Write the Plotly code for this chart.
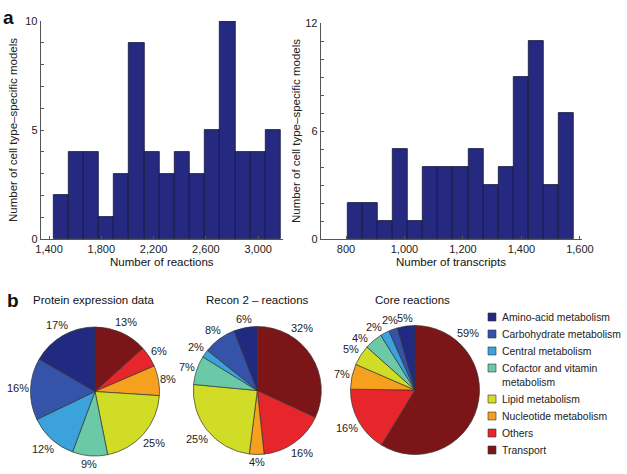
import math
import plotly.graph_objects as go

# histogram a (left): number of reactions
rxn_start = 1433
rxn_width = 116
rxn_counts = [2, 4, 4, 1, 3, 9, 4, 3, 4, 3, 5, 10, 4, 4, 5]

# histogram a (right): number of transcripts
tx_start = 806
tx_width = 51.5
tx_counts = [2, 2, 1, 5, 1, 4, 4, 4, 5, 3, 4, 9, 11, 3, 7]

# pie categories, plotted clockwise from 12 o'clock
categories = ["Transport", "Others", "Nucleotide metabolism", "Lipid metabolism",
              "Cofactor and vitamin<br>metabolism", "Central metabolism",
              "Carbohydrate metabolism", "Amino-acid metabolism"]
colors = ["#7c1517", "#e6262b", "#f6a01f", "#d0dc26",
          "#6cc9a8", "#3ba2dc", "#3553a8", "#1f2a80"]

protein_vals = [13.3, 5.2, 7.5, 20.8, 8.8, 12.2, 15.5, 16.6]
protein_text = ["13%", "6%", "8%", "25%", "9%", "12%", "16%", "17%"]
recon_vals = [31.9, 16.4, 3.7, 24.5, 7.3, 2.0, 8.3, 5.9]
recon_text = ["32%", "16%", "4%", "25%", "7%", "2%", "8%", "6%"]
core_vals = [58.7, 16.5, 6.3, 5.1, 4.5, 2.3, 2.2, 4.4]
core_text = ["59%", "16%", "7%", "5%", "4%", "2%", "2%", "5%"]

W, H = 627, 474
FONT = "Liberation Sans, Arial, sans-serif"
BAR = "#252a80"
AX = "#555555"
TXT = "#222222"

fig = go.Figure()

rxn_x = [rxn_start + rxn_width * (i + 0.5) for i in range(len(rxn_counts))]
tx_x = [tx_start + tx_width * (i + 0.5) for i in range(len(tx_counts))]

fig.add_trace(go.Bar(x=rxn_x, y=rxn_counts, width=rxn_width, marker_color=BAR,
                     marker_line=dict(color="#15173a", width=0.8),
                     showlegend=False, xaxis="x", yaxis="y"))
fig.add_trace(go.Bar(x=tx_x, y=tx_counts, width=tx_width, marker_color=BAR,
                     marker_line=dict(color="#15173a", width=0.8),
                     showlegend=False, xaxis="x2", yaxis="y2"))


def px(x0, x1):
    return [x0 / W, x1 / W]


def py(top, bottom):
    return [1 - bottom / H, 1 - top / H]


# pie centre / radius in pixels
pies = [
    (protein_vals, protein_text, 95, 391.5, 64.5),
    (recon_vals, recon_text, 257.3, 390.5, 64),
    (core_vals, core_text, 415, 390, 64.5),
]
# labels moved by hand in the original (pie, slice) -> angle in degrees
label_angle_override = {(1, 0): 36, (2, 0): 43, (2, 4): 313, (2, 5): 327}

for i, (vals, txt, cx, cy, r) in enumerate(pies):
    fig.add_trace(go.Pie(
        labels=categories, values=vals, textinfo="none", sort=False,
        direction="clockwise", rotation=0,
        marker=dict(colors=colors, line=dict(color="#333333", width=0.7)),
        domain=dict(x=px(cx - r, cx + r), y=py(cy - r, cy + r)),
        showlegend=False, hoverinfo="label+percent",
    ))
    # percentage labels just outside each slice (matlab style)
    total = sum(vals)
    cum = 0
    for j, (v, t) in enumerate(zip(vals, txt)):
        ang = (cum + v / 2) / total * 360
        cum += v
        ang = label_angle_override.get((i, j), ang)
        s, c = math.sin(math.radians(ang)), math.cos(math.radians(ang))
        half_w = (6.1 * (len(t) - 1) + 9.8) / 2
        d = r + 1 + abs(s) * half_w + abs(c) * 6.5
        fig.add_annotation(text=t, x=(cx + d * s) / W, y=1 - (cy - d * c) / H,
                           xref="paper", yref="paper", showarrow=False,
                           xanchor="center", yanchor="middle",
                           font=dict(size=11, color=TXT))

axis_common = dict(showline=True, linecolor=AX, linewidth=1, ticks="inside",
                   ticklen=3, tickcolor=AX, showgrid=False, zeroline=False,
                   automargin=False,
                   tickfont=dict(size=11, color=TXT), tickformat=",d")
y_minor = dict(dtick=1, ticks="inside", ticklen=3, tickcolor=AX, showgrid=False)

fig.update_layout(
    width=W, height=H, margin=dict(l=0, r=0, t=0, b=0),
    paper_bgcolor="white", plot_bgcolor="white",
    font=dict(family=FONT, size=11, color=TXT),
    bargap=0, showlegend=False,
    xaxis=dict(domain=px(40.7, 283), range=[1336, 3190],
               tickvals=[1400, 1800, 2200, 2600, 3000], anchor="y",
               **axis_common),
    yaxis=dict(domain=py(21, 239), range=[0, 10], tickvals=[0, 5, 10], anchor="x",
               title=dict(text="Number of cell type–specific models", font=dict(size=11.5), standoff=5),
               minor=y_minor, **axis_common),
    xaxis2=dict(domain=px(320.7, 581.7), range=[713.5, 1606],
                tickvals=[800, 1000, 1200, 1400, 1600], anchor="y2",
                **axis_common),
    yaxis2=dict(domain=py(23, 239), range=[0, 12], tickvals=[0, 6, 12], anchor="x2",
                title=dict(text="Number of cell type–specific models", font=dict(size=11.5), standoff=2),
                minor=y_minor, **axis_common),
)

# legend drawn by hand, top to bottom: amino-acid first
leg_y = 317
for name, col in zip(categories[::-1], colors[::-1]):
    nlines = name.count("<br>") + 1
    fig.add_shape(type="rect", xref="paper", yref="paper",
                  x0=488 / W, x1=496 / W, y0=1 - (leg_y + 4) / H, y1=1 - (leg_y - 4) / H,
                  fillcolor=col, line=dict(color="#333333", width=0.6))
    fig.add_annotation(text=name, x=500 / W, y=1 - (leg_y - 7) / H,
                       xref="paper", yref="paper", showarrow=False,
                       xanchor="left", yanchor="top", align="left",
                       font=dict(size=10.4, color=TXT))
    leg_y += 17 + (nlines - 1) * 14

annos = [
    dict(text="<b>a</b>", x=1 / W, y=1 - 18 / H, size=19, anchor="left"),
    dict(text="<b>b</b>", x=5 / W, y=1 - 300 / H, size=19, anchor="left"),
    dict(text="Number of reactions", x=162 / W, y=1 - 262 / H, size=11.5, anchor="center"),
    dict(text="Number of transcripts", x=451 / W, y=1 - 262 / H, size=11.5, anchor="center"),
    dict(text="Protein expression data", x=94 / W, y=1 - 300 / H, size=11.5, anchor="center"),
    dict(text="Recon 2 – reactions", x=257 / W, y=1 - 300 / H, size=11.5, anchor="center"),
    dict(text="Core reactions", x=412 / W, y=1 - 300 / H, size=11.5, anchor="center"),
]
for a in annos:
    fig.add_annotation(text=a["text"], x=a["x"], y=a["y"], xref="paper", yref="paper",
                       showarrow=False, xanchor=a["anchor"], yanchor="middle",
                       font=dict(size=a["size"], color="#111"))

# drop the browser's default body margin so the figure sits at (0, 0)
fig.write_html("out.html", config={"displayModeBar": False},
               post_script="document.body.style.margin='0';")
